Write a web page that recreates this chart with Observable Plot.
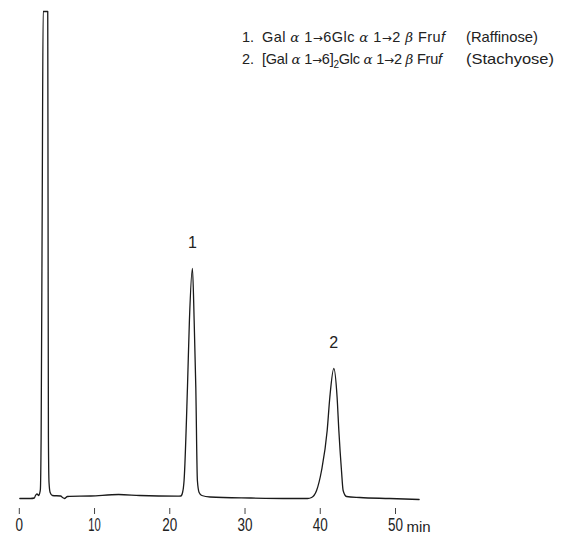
<!DOCTYPE html>
<html><head><meta charset="utf-8">
<script src="https://cdn.jsdelivr.net/npm/d3@7"></script>
<script src="https://cdn.jsdelivr.net/npm/@observablehq/plot@0.6"></script>
<style>body{margin:0;background:#fff} svg{display:block}</style>
</head><body><div id="chart"></div>
<script>
// Retention time (min) and detector response (arbitrary units, baseline = 0)
const times = [0.07, 1.5, 2.0, 2.15, 2.35, 2.59, 2.7, 2.8, 2.9, 3.05, 3.17, 3.78, 3.82, 3.87, 3.95, 4.1, 4.4, 5.5, 5.75, 6.0, 6.4, 9.5, 13.2, 16.0, 21.0,
  21.47, 21.7, 21.9, 22.35, 22.61, 23.01, 23.24, 23.46, 23.67, 23.9, 24.26, 25.36, 30.7, 36.0, 38.3,
  38.85, 39.51, 40.17, 40.92, 41.27, 41.8, 42.24, 42.47, 42.82, 43.04, 43.49, 45.25, 49.2, 53.14];
const signal = [-1, -1, -0.5, 2, 3.5, 2, 4, 8, 60, 300, 486, 486, 300, 60, 15, 5, 2, 1.5, 0, -1, 1, 1.5, 3, 2, 1.3,
  1.5, 5, 17, 110, 177, 229, 177, 110, 17, 5, 2, 0.5, -0.5, -1, -1,
  0, 7, 27, 67, 100, 129, 100, 67, 27, 7, 1, 0, -1, -2];

const xTicks = [0, 10, 20, 30, 40, 50];
const xUnit = "min";

const peakLabels = ["1", "2"];
const peakTimes = [23.01, 41.8];
const peakHeights = [229, 129];

const legendNumbers = ["1.", "2."];
const legendFormulas = ["Gal *α* 1→6Glc *α* 1→2 *β* Fru/f/", "[Gal *α* 1→6]_2_Glc *α* 1→2 *β* Fru/f/"];
const legendNames = ["(Raffinose)", "(Stachyose)"];

const data = times.map((t, i) => ({t, v: signal[i]}));
const peaks = peakLabels.map((s, i) => ({s, t: peakTimes[i], v: peakHeights[i]}));

const svg = Plot.plot({
  width: 566, height: 542,
  marginLeft: 0, marginRight: 0, marginTop: 0, marginBottom: 34,
  x: {domain: [0, 50], range: [18.8, 395], label: null},
  y: {domain: [0, 486], range: [497, 11], axis: null},
  style: {fontFamily: "'Liberation Sans', Arial, sans-serif", background: "#fff", color: "#222"},
  marks: [
    Plot.line(data, {x: "t", y: "v", curve: "monotone-x", stroke: "#1a1a1a", strokeWidth: 1.3}),
    Plot.axisX({ticks: xTicks, tickSize: 6, tickPadding: 4, fontSize: 18, label: null, tickFormat: d => String(d), stroke: "#444", fill: "#222"}),
    Plot.text([xUnit], {x: () => 50, frameAnchor: "bottom", text: d => d, dx: 11, dy: 23, textAnchor: "start", lineAnchor: "bottom", fontSize: 15, fill: "#222"}),
    Plot.text(peaks, {x: "t", y: "v", text: "s", dy: -21, lineAnchor: "bottom", fontSize: 16, fill: "#222"})
  ]
});
document.getElementById("chart").appendChild(svg);

// condensed look for tick digits
d3.select(svg).selectAll("[aria-label='x-axis tick label'] text").each(function() {
  const s = this.textContent;
  const w = [...s].reduce((a, c) => a + (c === "1" ? 5 : 7.5), 0);
  this.setAttribute("textLength", w);
  this.setAttribute("lengthAdjust", "spacingAndGlyphs");
});

// legend
const lg = d3.select(svg).append("g")
  .attr("font-family", "'Liberation Sans', Arial, sans-serif")
  .attr("font-size", 14.5).attr("fill", "#222").attr("text-anchor", "start");
const lineY = [42, 64];
const formulaWidth = [183, 180];
const nameWidth = [72, 88];
legendFormulas.forEach((f, i) => {
  lg.append("text").attr("x", 242).attr("y", lineY[i]).text(legendNumbers[i]);
  const txt = lg.append("text").attr("x", 262).attr("y", lineY[i])
    .attr("textLength", formulaWidth[i]).attr("lengthAdjust", "spacing")
    .style("white-space", "pre");
  const parts = f.split(/(\*[^*]+\*|\/[^/]+\/|_[^_]+_|→)/).filter(p => p.length);
  let sub = false;
  parts.forEach(p => {
    const ts = txt.append("tspan");
    if (sub) { ts.attr("dy", -4); sub = false; }
    if (p.startsWith("*")) {
      ts.text(p.slice(1, -1)).attr("font-family", "'DejaVu Serif', 'Liberation Serif', serif").attr("font-style", "italic").attr("font-size", 13.5);
    } else if (p.startsWith("/")) {
      ts.text(p.slice(1, -1)).attr("font-style", "italic");
    } else if (p.startsWith("_")) {
      ts.text(p.slice(1, -1)).attr("font-size", 10).attr("dy", 4);
      sub = true;
    } else if (p === "→") {
      ts.text(p).attr("font-family", "'DejaVu Sans', sans-serif").attr("font-size", 12);
    } else {
      ts.text(p);
    }
  });
  lg.append("text").attr("x", 466).attr("y", lineY[i])
    .attr("textLength", nameWidth[i]).attr("lengthAdjust", "spacingAndGlyphs")
    .text(legendNames[i]);
});
</script>
</body></html>
